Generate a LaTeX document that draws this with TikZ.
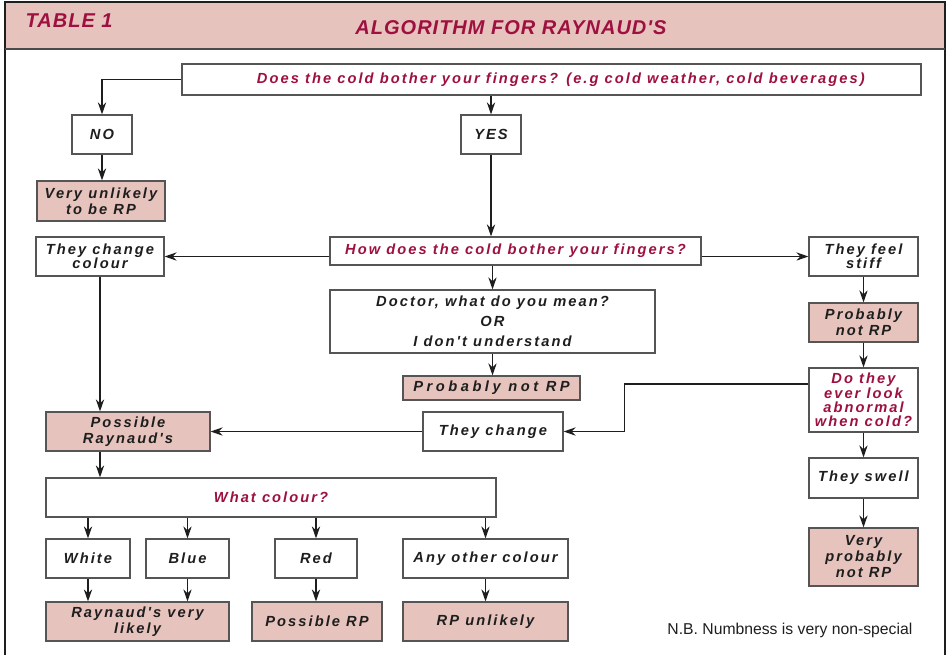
\documentclass[tikz,border=0pt]{standalone}
\usepackage{fontspec}
\setmainfont{Liberation Sans}
\newfontfamily\boxfont{Liberation Sans}[LetterSpace=14]
\newfontfamily\widefont{Liberation Sans}[LetterSpace=24]
\newfontfamily\headfont{Liberation Sans}[LetterSpace=5]
\usetikzlibrary{arrows.meta}
\definecolor{pinkbg}{HTML}{E6C3BC}
\definecolor{rpred}{HTML}{9E1040}
\definecolor{txt}{HTML}{1E1E1E}
\definecolor{edge}{HTML}{555555}
\begin{document}
\begin{tikzpicture}[x=0.75pt,y=-0.75pt,
 sz/.style 2 args={minimum width=#1*0.75pt, minimum height=#2*0.75pt},
 box/.style={draw=edge, line width=0.9pt, fill=white, align=center, inner sep=0pt,
   font=\boxfont\fontsize{11}{12}\selectfont\bfseries\itshape, text=txt},
 tight/.style={font=\boxfont\fontsize{11}{10.7}\selectfont\bfseries\itshape},
 pbox/.style={box, fill=pinkbg},
 qbox/.style={box, text=rpred},
 arr/.style={draw=txt, line width=0.85pt, -{Stealth[length=9pt,width=6.2pt,inset=3pt]}}
]
\useasboundingbox (0,0) rectangle (949,654);
% frame and header
\fill[pinkbg] (5,2) rectangle (945,49);
\draw[line width=2.2pt, txt] (5,660) -- (5,2) -- (945,2) -- (945,660);
\draw[line width=1.6pt, txt!80] (5,49) -- (945,49);
\node[anchor=west, text=rpred, font=\headfont\fontsize{15}{17}\selectfont\bfseries\itshape] (tab) at (21,21) {TABLE 1};
\node[text=rpred, font=\headfont\fontsize{15}{17}\selectfont\bfseries\itshape] (title) at (511,28) {ALGORITHM FOR RAYNAUD'S};

% nodes
\node[qbox, sz={739}{31}] (q1) at (551.5,79.5) {\hspace*{14pt}Does the cold bother your fingers? (e.g cold weather, cold beverages)};
\node[box, sz={60}{39}] (no) at (102,134.5) {NO};
\node[box, sz={60}{39}] (yes) at (491,134.5) {YES};
\node[pbox, sz={128}{40}] (vu) at (101,201) {Very unlikely\\to be RP};
\node[box, tight, sz={128}{39}] (tcc) at (100,256.5) {They change\\colour};
\node[qbox, sz={371}{28}] (how) at (515.5,251) {How does the cold bother your fingers?};
\node[box, tight, sz={109}{39}] (stiff) at (863.5,256.5) {They feel\\stiff};
\node[box, sz={325}{63}] (doc) at (492.5,321.5) {Doctor, what do you mean?\\[3pt]OR\\[3pt]I don't understand};
\node[pbox, sz={177}{24}, font=\widefont\fontsize{11}{12}\selectfont\bfseries\itshape] (pnr1) at (491.5,388) {Probably not RP};
\node[pbox, sz={109}{39}] (pnr2) at (863.5,322.5) {Probably\\not RP};
\node[qbox, tight, sz={109}{64}] (abn) at (863.5,400) {Do they\\ever look\\abnormal\\when cold?};
\node[box, sz={140}{39}] (tc) at (493,431.5) {They change};
\node[pbox, sz={164}{39}] (pr) at (128,431.5) {Possible\\Raynaud's};
\node[qbox, sz={450}{39}] (wc) at (271,497.5) {What colour?};
\node[box, sz={84}{39}] (white) at (88,558.5) {White};
\node[box, sz={83}{39}] (blue) at (187.5,558.5) {Blue};
\node[box, sz={82}{39}] (red) at (316,558.5) {Red};
\node[box, sz={165}{39}] (other) at (485.5,558.5) {Any other colour};
\node[pbox, sz={183}{39}] (rvl) at (137.5,621.5) {Raynaud's very\\likely};
\node[pbox, sz={130}{39}] (prp) at (317,621.5) {Possible RP};
\node[pbox, sz={165}{39}] (rpu) at (485.5,621.5) {RP unlikely};
\node[box, sz={109}{40}] (swell) at (863.5,478) {They swell};
\node[pbox, sz={109}{58}] (vpn) at (863.5,557) {Very\\probably\\not RP};
\node[anchor=east, text=txt, font=\fontsize{11.8}{14}\selectfont] (nb) at (917,630) {N.B. Numbness is very non-special};

% connectors
\draw[arr] (q1.west) -| (no.north);
\draw[arr] (yes.north |- q1.south) -- (yes.north);
\draw[arr] (no.south) -- (no.south |- vu.north);
\draw[arr] (yes.south) -- (yes.south |- how.north);
\draw[arr] (how.west |- tcc.east) -- (tcc.east);
\draw[arr] (how.east |- stiff.west) -- (stiff.west);
\draw[arr] (how.south -| doc.north) -- (doc.north);
\draw[arr] (doc.south) -- (doc.south |- pnr1.north);
\draw[arr] (stiff.south) -- (pnr2.north);
\draw[arr] (pnr2.south) -- (abn.north);
\draw[arr] ([yshift=12pt]abn.west) -- ++(-184,0) |- (tc.east);
\draw[arr] (tcc.south) -- (tcc.south |- pr.north);
\draw[arr] (tc.west) -- (pr.east);
\draw[arr] (tcc.south |- pr.south) -- (tcc.south |- wc.north);
\draw[arr] (white.north |- wc.south) -- (white.north);
\draw[arr] (blue.north |- wc.south) -- (blue.north);
\draw[arr] (red.north |- wc.south) -- (red.north);
\draw[arr] (other.north |- wc.south) -- (other.north);
\draw[arr] (white.south) -- (white.south |- rvl.north);
\draw[arr] (blue.south) -- (blue.south |- rvl.north);
\draw[arr] (red.south) -- (red.south |- prp.north);
\draw[arr] (other.south) -- (rpu.north);
\draw[arr] (abn.south) -- (swell.north);
\draw[arr] (swell.south) -- (vpn.north);
\end{tikzpicture}
\end{document}
